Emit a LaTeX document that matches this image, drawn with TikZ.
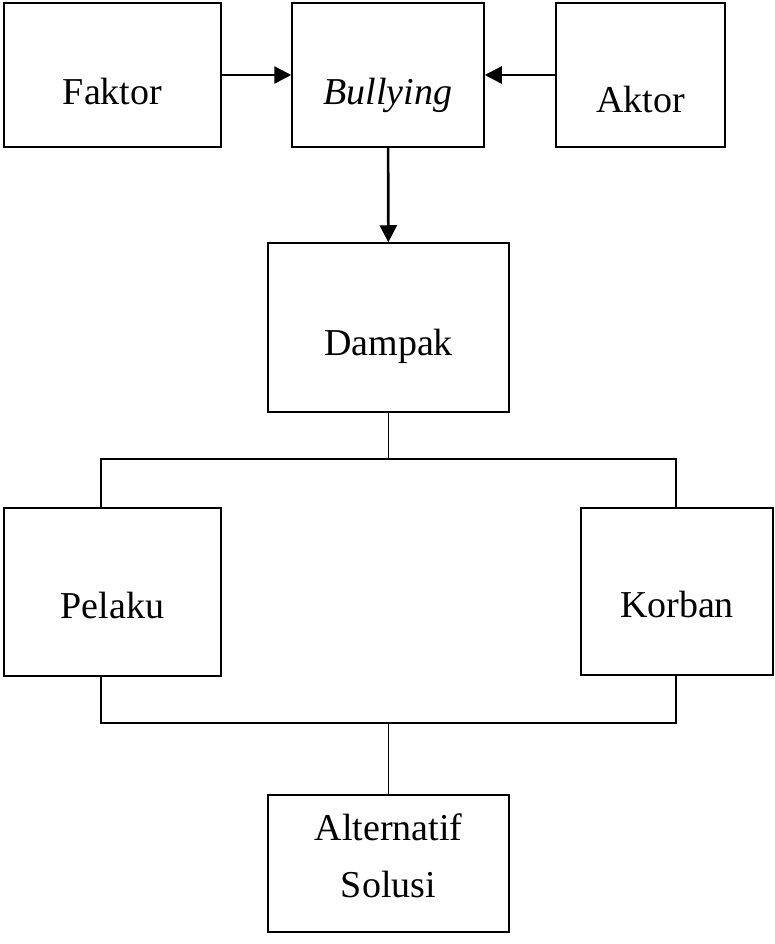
\documentclass[tikz,border=0pt]{standalone}
\usepackage{fontspec}
\setmainfont{Liberation Serif}
\usetikzlibrary{arrows.meta}

\begin{document}
\begin{tikzpicture}[
	x=1pt, y=-1pt,
	font=\fontsize{38}{57}\selectfont,
	block/.style n args={3}{ draw, line width=1.5pt, inner sep=0pt, anchor=base, minimum width=#1, text height=#2, text depth=#3 },
	flow/.style={ line width=2.6pt, -{Triangle[length=17pt,width=17pt]} },
	tree/.style={ line width=1.5pt }
]
\useasboundingbox (0,0) rectangle (774,944);

\node at (112.5,105) (faktor) [block={217pt}{102pt}{42pt}] {Faktor};
\node at (388,105) (bullying) [block={192pt}{102pt}{42pt}] {\textit{Bullying}};
\node at (640.5,113) (aktor) [block={169pt}{110pt}{34pt}] {Aktor};
\draw[flow] (faktor) to (bullying);
\draw[flow] (aktor) to (bullying);

\node at (388.5,355) (dampak) [block={241pt}{112pt}{57pt}] {Dampak};
\draw[flow] (bullying) to (dampak);

\node at (112.5,618) (pelaku) [block={217pt}{110pt}{58pt}] {Pelaku};
\node at (677,617) (korban) [block={192pt}{109pt}{58pt}] {Korban};
\coordinate (splitL) at (101,459);
\coordinate (splitR) at (676,459);
\draw[tree] (dampak.south) to (dampak.south |- splitL);
\draw[tree] (splitL |- pelaku.north) -- (splitL) -- (splitR) -- (splitR |- korban.north);

\node at (388.5,897) (solusi) [block={241pt}{102pt}{35pt}, align=center] {Alternatif\\Solusi};
\coordinate (mergeL) at (101,723);
\coordinate (mergeR) at (676,723);
\draw[tree] (mergeL |- pelaku.south) -- (mergeL) -- (mergeR) -- (mergeR |- korban.south);
\draw[tree] (solusi.north |- mergeL) to (solusi.north);

\end{tikzpicture}
\end{document}
